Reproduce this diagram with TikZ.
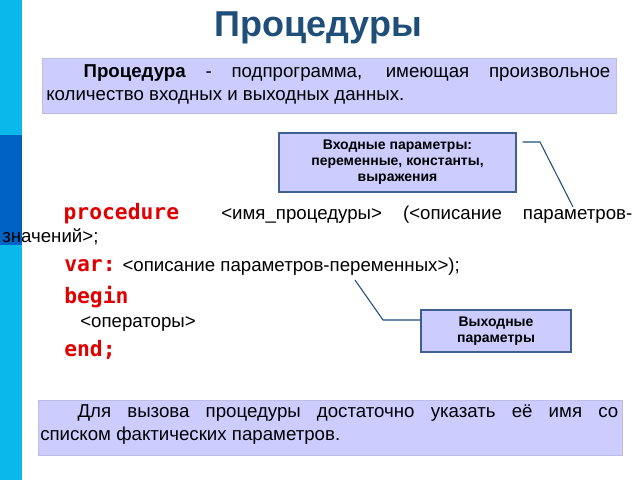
\documentclass[tikz,border=0pt]{standalone}
\usepackage{fontspec}
\setmainfont{Liberation Sans}
\newfontfamily\codefont{DejaVu Sans Mono}
\usepackage{xcolor}
\definecolor{stripcyan}{HTML}{0BB8EC}
\definecolor{stripdark}{HTML}{0062C4}
\definecolor{titleblue}{HTML}{1F4E79}
\definecolor{boxfill}{HTML}{CCCCFF}
\definecolor{boxline}{HTML}{3F5F8F}
\definecolor{kwred}{HTML}{E00000}
\newcommand{\kw}[1]{{\codefont\bfseries\fontsize{16}{18}\selectfont\color{kwred}#1}}
\tikzset{
  note/.style={fill=boxfill, draw=boxfill!80!gray, inner sep=0pt},
  callout/.style={fill=boxfill, draw=boxline, thick, font=\bfseries\fontsize{10.5}{12}\selectfont, align=center, inner sep=2pt},
  body/.style={anchor=north west, inner sep=0pt, font=\fontsize{14}{17.5}\selectfont},
  lead/.style={draw=titleblue, thick}
}
\begin{document}
\begin{tikzpicture}[x=0.75pt,y=0.75pt,yscale=-1,xscale=1]
\useasboundingbox (0,0) rectangle (640,480);

%Side strip
\fill[stripcyan] (0,0) rectangle (22,480);
\fill[stripdark] (0,135) rectangle (22,245);

% Title
\node (title) at (318,28) {\bfseries\fontsize{27}{30}\selectfont\color{titleblue}Процедуры};

% Definition box
\draw[note] (42,58) rectangle (616,113);
\node[body, text width=564*0.75pt, align=justify] (def) at (46,64)
  {\hspace*{2em}\textbf{Процедура} - подпрограмма, имеющая произвольное\linebreak количество входных и выходных данных.};

% Code
\node[body, text width=630*0.75pt, align=justify] (head) at (2,203)
  {\hspace*{46pt}\kw{procedure} \ <имя\_процедуры> (<описание параметров-\linebreak значений>;};
\node[body] (var) at (64,258) {\kw{var:} <описание параметров-переменных>);};
\node[body] (begin) at (64,286) {\kw{begin}};
\node[body] (ops) at (80,316) {<операторы>};
\node[body] (end) at (64,340) {\kw{end;}};

% Callouts
\node[callout, minimum width=237*0.75pt, minimum height=59*0.75pt] (inparams) at (397.5,162.5)
  {Входные параметры:\\переменные, константы,\\выражения};
\node[callout, minimum width=150*0.75pt, minimum height=42*0.75pt] (outparams) at (496,331)
  {Выходные\\параметры};
\coordinate (inknee) at (540,142);
\coordinate (inend) at (573,207);
\coordinate (outknee) at (383,320);
\coordinate (outend) at (355,280);
\draw[lead] (inparams.east |- inknee) ++(6,0) -- (inknee) -- (inend);
\draw[lead] (outparams.west |- outknee) -- (outknee) -- (outend);

% Call box
\draw[note] (38,400) rectangle (622,455);
\node[body, text width=578*0.75pt, align=justify] (call) at (40,404)
  {\hspace*{2em}Для вызова процедуры достаточно указать её имя со\linebreak списком фактических параметров.};

\end{tikzpicture}
\end{document}
